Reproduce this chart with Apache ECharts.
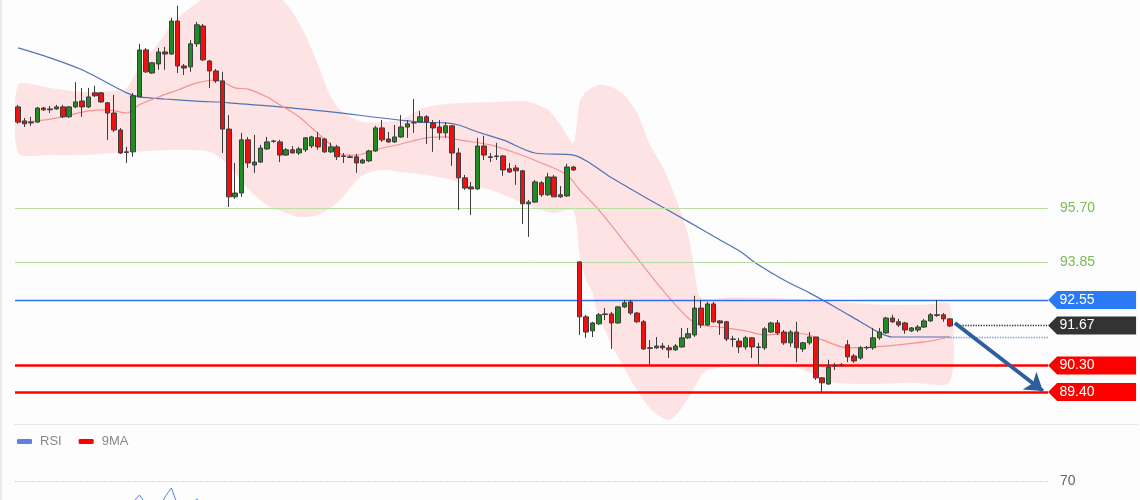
<!DOCTYPE html>
<html>
<head>
<meta charset="utf-8">
<script src="https://cdn.jsdelivr.net/npm/echarts/dist/echarts.min.js"></script>
<style>
  html, body { margin: 0; padding: 0; background: #fcfdfc; }
  #chart { width: 1140px; height: 500px; }
</style>
</head>
<body>
<div id="chart"></div>
<script>
// ---------------- DATA ----------------
// candle OHLC values (147 sessions)
const opens = [
  99.16, 98.68, 98.64, 98.64, 99.12, 99.06, 99.09, 99.16, 98.82, 99.16,
  99.36, 99.16, 99.64, 99.64, 99.30, 98.95, 98.37, 97.62, 97.62, 99.50,
  101.11, 100.32, 100.63, 101.04, 100.97, 102.10, 100.56, 100.53, 101.32, 101.93,
  100.73, 100.39, 100.05, 98.40, 96.08, 96.21, 98.03, 97.17, 97.27, 97.72,
  97.98, 97.96, 97.51, 97.69, 97.58, 97.69, 97.82, 98.10, 98.06, 97.62,
  97.79, 97.48, 97.45, 97.45, 97.24, 97.31, 97.65, 98.44, 98.06, 97.96,
  98.13, 98.47, 98.61, 98.64, 98.82, 98.61, 98.47, 98.27, 98.51, 97.58,
  96.73, 96.42, 96.35, 97.82, 97.45, 97.46, 97.48, 97.04, 97.07, 96.97,
  95.84, 95.90, 96.56, 96.15, 96.76, 96.15, 96.11, 97.10, 93.85, 91.97,
  91.49, 91.73, 92.07, 92.07, 91.76, 92.31, 92.48, 92.10, 91.80, 90.91,
  90.91, 90.97, 90.91, 90.84, 90.94, 91.25, 91.35, 92.27, 91.69, 92.41,
  91.83, 91.80, 91.21, 91.14, 90.94, 91.25, 90.94, 90.91, 91.45, 91.76,
  91.45, 91.08, 91.45, 90.87, 91.08, 91.28, 89.88, 89.67, 90.29, 90.30,
  91.01, 90.63, 90.56, 90.91, 90.91, 91.25, 91.42, 91.93, 91.80, 91.76,
  91.49, 91.52, 91.62, 91.83, 92.04, 92.04, 91.90
];
const closes = [
  98.64, 98.58, 98.61, 99.12, 99.06, 99.09, 99.16, 98.82, 99.16, 99.33,
  99.16, 99.50, 99.54, 99.33, 98.95, 98.37, 97.58, 97.60, 99.54, 101.11,
  100.36, 100.67, 101.04, 100.97, 102.10, 100.56, 100.49, 101.32, 101.97, 100.77,
  100.39, 100.05, 98.40, 96.08, 96.21, 98.03, 97.24, 97.27, 97.75, 97.96,
  97.99, 97.51, 97.69, 97.58, 97.72, 98.10, 98.13, 97.79, 97.62, 97.79,
  97.45, 97.46, 97.43, 97.24, 97.34, 97.65, 98.44, 98.03, 97.96, 98.13,
  98.47, 98.58, 98.62, 98.82, 98.64, 98.44, 98.27, 98.51, 97.58, 96.73,
  96.38, 96.35, 97.82, 97.51, 97.43, 97.48, 97.00, 96.93, 96.97, 95.84,
  95.90, 96.59, 96.15, 96.76, 96.08, 96.08, 97.10, 97.00, 91.97, 91.45,
  91.76, 92.04, 92.05, 91.76, 92.31, 92.45, 92.10, 91.80, 90.87, 90.89,
  90.97, 90.91, 90.84, 90.97, 91.25, 91.39, 92.27, 91.69, 92.41, 91.80,
  91.76, 91.21, 91.20, 90.94, 91.25, 90.94, 90.92, 91.56, 91.76, 91.42,
  91.08, 91.45, 90.91, 91.08, 91.28, 89.88, 89.71, 90.25, 90.30, 90.32,
  90.60, 90.46, 90.91, 90.92, 91.25, 91.45, 91.93, 91.80, 91.69, 91.52,
  91.59, 91.62, 91.83, 92.04, 92.02, 91.90, 91.66
];
const lows = [
  98.58, 98.47, 98.51, 98.61, 99.02, 98.95, 99.06, 98.78, 98.78, 99.12,
  98.82, 99.12, 99.50, 99.30, 98.03, 98.30, 97.55, 97.24, 97.45, 99.50,
  100.32, 100.29, 100.43, 100.43, 100.94, 100.32, 100.25, 100.36, 101.21, 100.73,
  99.81, 99.98, 97.58, 95.73, 96.01, 96.08, 97.07, 96.90, 97.24, 97.69,
  97.93, 97.27, 97.48, 97.58, 97.51, 97.62, 97.75, 97.69, 97.58, 97.58,
  97.34, 97.24, 97.41, 96.90, 97.21, 97.27, 97.62, 97.96, 97.93, 97.93,
  98.10, 98.10, 98.27, 98.64, 97.89, 97.62, 98.03, 98.10, 97.14, 95.63,
  96.32, 95.46, 96.32, 97.34, 97.27, 97.34, 96.80, 96.90, 96.49, 95.15,
  94.71, 95.87, 96.08, 96.11, 96.08, 96.04, 96.08, 96.97, 91.35, 91.25,
  91.28, 91.69, 91.86, 90.87, 91.73, 92.27, 92.04, 91.76, 90.84, 90.32,
  90.87, 90.84, 90.56, 90.80, 90.91, 91.21, 91.28, 91.59, 91.66, 91.76,
  91.35, 91.14, 90.94, 90.73, 90.84, 90.56, 90.32, 90.84, 91.42, 91.35,
  91.01, 90.94, 90.42, 90.77, 91.01, 89.81, 89.40, 89.64, 90.15, 90.29,
  90.42, 90.39, 90.50, 90.84, 90.84, 91.18, 91.39, 91.76, 91.62, 91.39,
  91.45, 91.45, 91.59, 91.80, 91.97, 91.80, 91.62
];
const highs = [
  99.23, 98.78, 98.82, 99.16, 99.16, 99.19, 99.23, 99.23, 99.19, 100.01,
  99.81, 99.81, 99.88, 99.67, 99.33, 99.57, 98.44, 97.79, 99.64, 101.32,
  101.18, 100.70, 101.18, 101.21, 102.21, 102.62, 100.63, 101.45, 102.07, 102.00,
  100.77, 100.46, 100.36, 98.88, 97.24, 98.27, 98.13, 98.20, 97.86, 98.13,
  98.03, 98.03, 97.75, 97.82, 97.79, 98.13, 98.17, 98.30, 98.10, 97.93,
  97.86, 97.58, 97.51, 97.55, 97.38, 97.69, 98.51, 98.71, 98.30, 98.54,
  98.88, 98.71, 99.43, 99.02, 98.88, 98.71, 98.71, 98.64, 98.54, 97.75,
  96.83, 96.59, 98.10, 98.17, 97.58, 97.93, 97.51, 97.24, 97.17, 97.00,
  95.97, 96.66, 96.62, 96.90, 96.83, 96.45, 97.21, 97.14, 93.88, 92.04,
  91.80, 92.10, 92.27, 92.14, 92.34, 92.55, 92.55, 92.14, 91.86, 91.18,
  91.28, 91.08, 91.01, 91.04, 91.59, 91.59, 92.69, 92.55, 92.48, 92.48,
  91.86, 91.83, 91.32, 91.25, 91.32, 91.28, 91.08, 91.62, 91.80, 91.86,
  91.52, 91.52, 91.80, 91.11, 91.45, 91.28, 89.91, 90.50, 90.39, 90.39,
  91.18, 90.70, 90.97, 90.97, 91.59, 91.59, 91.97, 92.04, 91.90, 91.80,
  91.62, 91.69, 91.90, 92.10, 92.55, 92.10, 91.93
];

// Bollinger band edges [candle index, price]
const bbUpper = [
  [0,99.91],[5,99.81],[10,99.67],[15,99.71],[17,99.81],[19,100.53],[22,101.35],[25,102.21],
  [28,102.72],[31,103.17],[35,103.51],[39,103.34],[41,102.93],[43,102.41],[45,101.62],[47,100.60],
  [49,99.50],[51,98.95],[54,98.64],[57,98.64],[60,98.71],[63,99.09],[66,99.23],[70,99.30],
  [75,99.33],[80,99.33],[83,99.06],[85,98.54],[87,97.93],[88,99.33],[89,99.67],[91,99.91],
  [93,99.84],[95,99.57],[97,98.95],[99,97.86],[101,97.10],[103,96.08],[105,94.78],[106,93.58],
  [107,92.62],[112,92.65],[118,92.62],[124,92.55],[130,92.45],[136,92.38],[142,92.38],[146,92.38]
];
const bbLower = [
  [0,97.58],[5,97.51],[10,97.51],[15,97.58],[20,97.65],[25,97.69],[30,97.62],[33,97.17],
  [35,96.59],[37,96.15],[39,95.80],[41,95.60],[44,95.39],[47,95.46],[50,95.87],[52,96.38],
  [54,96.83],[57,97.00],[60,96.93],[64,96.83],[68,96.66],[70,96.49],[74,96.32],[78,95.97],
  [81,95.70],[84,95.53],[87,95.60],[88,94.09],[89,93.23],[90,92.79],[91,91.93],[92,91.52],
  [93,91.01],[94,90.60],[95,90.22],[96,89.81],[97,89.47],[98,89.12],[99,88.85],[100,88.65],
  [101,88.51],[102,88.44],[103,88.58],[104,88.85],[105,89.19],[106,89.54],[107,89.95],[108,90.15],
  [112,90.29],[118,90.25],[122,90.22],[125,89.98],[128,89.71],[134,89.67],[140,89.71],[146,89.74]
];
// Long moving average (blue) and band middle line (red)
const maLong = [
  [0,101.18],[5,100.84],[10,100.43],[14,99.98],[17,99.64],[19,99.50],[23,99.43],[28,99.36],
  [33,99.30],[37,99.23],[41,99.16],[49,98.99],[57,98.78],[63,98.64],[67,98.61],[69,98.54],
  [72,98.30],[76,98.03],[81,97.58],[87,97.51],[93,96.73],[99,95.97],[105,95.23],[110,94.60],
  [113,94.23],[116,93.75],[120,93.23],[124,92.79],[128,92.31],[132,91.80],[135,91.42],[137,91.28],[146,91.28]
];
const bbMiddle = [
  [0,98.64],[3,98.68],[7,98.82],[11,99.02],[14,99.06],[17,98.95],[19,99.23],[22,99.50],
  [25,99.74],[28,99.98],[31,100.08],[34,99.81],[36,99.77],[39,99.50],[41,99.23],[44,98.82],
  [46,98.44],[49,97.86],[51,97.51],[53,97.51],[56,97.69],[60,97.89],[64,98.10],[67,98.13],
  [69,98.03],[74,97.86],[78,97.58],[82,97.24],[86,96.83],[88,96.32],[91,95.63],[96,94.26],
  [101,92.89],[105,91.93],[107,91.69],[110,91.62],[114,91.49],[117,91.35],[120,91.39],[123,91.39],
  [126,91.18],[130,90.91],[134,90.94],[138,91.01],[142,91.11],[146,91.28]
];
// RSI panel (only its upper part is visible)
const rsi = [
  [14,46],[15,44],[16,47],[17,49],[18,52.5],[19,58.3],[20,51],[21,48],[22,46],
  [23,56.7],[24,64.2],[25,50],[26,47],[27,50],[28,55],[29,50],[30,46]
];
const ma9 = [];

// Levels
const resistanceLevels = [95.70, 93.85];
const pivotLevel = 92.55;
const lastPrice = 91.67;
const maLastLevel = 91.28;
const supportLevels = [90.30, 89.40];
const rsiLevel = 70;

// ---------------- LAYOUT ----------------
const slotCount = 176;                       // candle slots across the plot width
const categories = Array.from({length: slotCount}, (_, i) => String(i + 1));
const candleData = opens.map((o, i) => [o, closes[i], lows[i], highs[i]]);

const FONT = 'Liberation Sans, Arial, sans-serif';
const lineStart = -0.5, lineEnd = 161.4, tagX = 168.3;
const dotStartLast = 147.6, dotStartMa = 145.7;
const arrowFrom = [146.8, 91.76], arrowTo = [160.6, 89.43];
const tagPath = 'path://M0,9L9,0L88,0L88,18L9,18Z';

function hLine(y, x0, x1, lineStyle, label) {
  return [
    { coord: [x0, y], lineStyle: lineStyle, label: label || { show: false } },
    { coord: [x1, y] }
  ];
}

const levelLines = [];
resistanceLevels.forEach(v => levelLines.push(hLine(v, lineStart, lineEnd,
  { color: '#b9dea5', width: 1, type: 'solid' },
  { show: true, position: 'end', distance: 12, formatter: v.toFixed(2), color: '#7dbb55', fontSize: 14, fontFamily: FONT })));
levelLines.push(hLine(pivotLevel, lineStart, lineEnd, { color: '#2f6ff0', width: 1.3, type: 'solid' }));
supportLevels.forEach(v => levelLines.push(hLine(v, lineStart, lineEnd, { color: '#ff0000', width: 2.5, type: 'solid' })));
levelLines.push(hLine(lastPrice, dotStartLast, lineEnd, { color: '#333', width: 1.3, type: 'dotted' }));
levelLines.push(hLine(maLastLevel, dotStartMa, lineEnd, { color: '#7896d8', width: 1.3, type: 'dotted' }));
levelLines.push([
  { coord: arrowFrom, symbol: 'none', lineStyle: { color: '#2f5e9e', width: 4, type: 'solid' }, label: { show: false } },
  { coord: arrowTo, symbol: 'arrow', symbolSize: 17 }
]);

const tags = [
  { coord: [tagX, pivotLevel], value: pivotLevel.toFixed(2), itemStyle: { color: '#2a7af6' } },
  { coord: [tagX, lastPrice], value: lastPrice.toFixed(2), itemStyle: { color: '#333333' } },
  { coord: [tagX, supportLevels[0]], value: supportLevels[0].toFixed(2), itemStyle: { color: '#ff0000' } },
  { coord: [tagX, supportLevels[1]], value: supportLevels[1].toFixed(2), itemStyle: { color: '#ff0000' } }
];

const chart = echarts.init(document.getElementById('chart'), null, { renderer: 'canvas' });
chart.setOption({
  backgroundColor: '#fcfdfc',
  animation: false,
  legend: {
    data: ['RSI', '9MA'], left: 17, top: 435, padding: 0,
    itemWidth: 15, itemHeight: 5, itemGap: 17, icon: 'roundRect', selectedMode: false,
    textStyle: { color: '#8a8a8a', fontSize: 13, fontFamily: FONT, padding: [0, 0, 0, 3] }
  },
  graphic: [{ type: 'rect', left: 0, top: 0, shape: { width: 2, height: 500 }, style: { fill: '#e7ebef' }, silent: true }],
  grid: [
    { left: 15, right: 2, top: 0, height: 424 },
    { left: 15, right: 2, top: 445, height: 55 }
  ],
  xAxis: [
    { type: 'category', gridIndex: 0, data: categories, boundaryGap: true,
      axisLine: { show: true, lineStyle: { color: '#e0e4e0', type: 'dotted' } },
      axisTick: { show: false }, axisLabel: { show: false }, splitLine: { show: false } },
    { type: 'value', gridIndex: 0, min: -0.5, max: slotCount - 0.5, show: false },
    { type: 'value', gridIndex: 1, min: -0.5, max: slotCount - 0.5, show: false }
  ],
  yAxis: [
    { type: 'value', gridIndex: 0, min: 88.30, max: 102.82, show: false, splitLine: { show: false } },
    { type: 'value', gridIndex: 1, min: 54.17, max: 100, show: false, splitLine: { show: false } }
  ],
  series: [
    {
      name: 'band', type: 'custom', xAxisIndex: 1, yAxisIndex: 0, z: 1, silent: true, clip: true,
      data: [[0, 95]],
      renderItem: function (params, api) {
        const pts = bbUpper.map(p => api.coord(p))
          .concat(bbLower.slice().reverse().map(p => api.coord(p)));
        return { type: 'polygon', shape: { points: pts, smooth: 0.25 }, style: { fill: '#fde3e3' } };
      }
    },
    {
      name: 'MA', type: 'line', xAxisIndex: 1, yAxisIndex: 0, z: 3, data: maLong,
      smooth: 0.3, symbol: 'none', silent: true,
      lineStyle: { color: '#5073b8', width: 1.2 }
    },
    {
      name: 'BBmid', type: 'line', xAxisIndex: 1, yAxisIndex: 0, z: 3, data: bbMiddle,
      smooth: 0.3, symbol: 'none', silent: true,
      lineStyle: { color: '#f39393', width: 1.2 }
    },
    {
      name: 'price', type: 'candlestick', xAxisIndex: 0, yAxisIndex: 0, z: 5, data: candleData,
      barWidth: 5, silent: true,
      itemStyle: { color: '#1f8b22', color0: '#ee1111', borderColor: '#3c3c3c', borderColor0: '#3c3c3c', borderWidth: 1 }
    },
    {
      name: 'levels', type: 'line', xAxisIndex: 1, yAxisIndex: 0, z: 6, data: [], silent: true,
      markLine: { silent: true, animation: false, symbol: ['none', 'none'], data: levelLines },
      markPoint: {
        silent: true, animation: false, symbol: tagPath, symbolSize: [88, 18],
        label: { show: true, position: 'inside', color: '#ffffff', fontSize: 14, fontFamily: FONT,
                 offset: [-15, 0], formatter: p => p.value },
        data: tags
      }
    },
    {
      name: 'RSI', type: 'line', xAxisIndex: 2, yAxisIndex: 1, data: rsi, symbol: 'none', silent: true,
      clip: true, color: '#5b80e8', lineStyle: { color: '#5b80e8', width: 1 },
      markLine: {
        silent: true, animation: false, symbol: ['none', 'none'],
        data: [hLine(rsiLevel, lineStart, lineEnd, { color: '#c3c8d4', width: 1.2, type: 'dotted' },
          { show: true, position: 'end', distance: 12, formatter: String(rsiLevel), color: '#666', fontSize: 14, fontFamily: FONT })]
      }
    },
    {
      name: '9MA', type: 'line', xAxisIndex: 2, yAxisIndex: 1, data: ma9, symbol: 'none', silent: true,
      color: '#ff0000', lineStyle: { color: '#ff0000', width: 1 }
    }
  ]
});
</script>
</body>
</html>
